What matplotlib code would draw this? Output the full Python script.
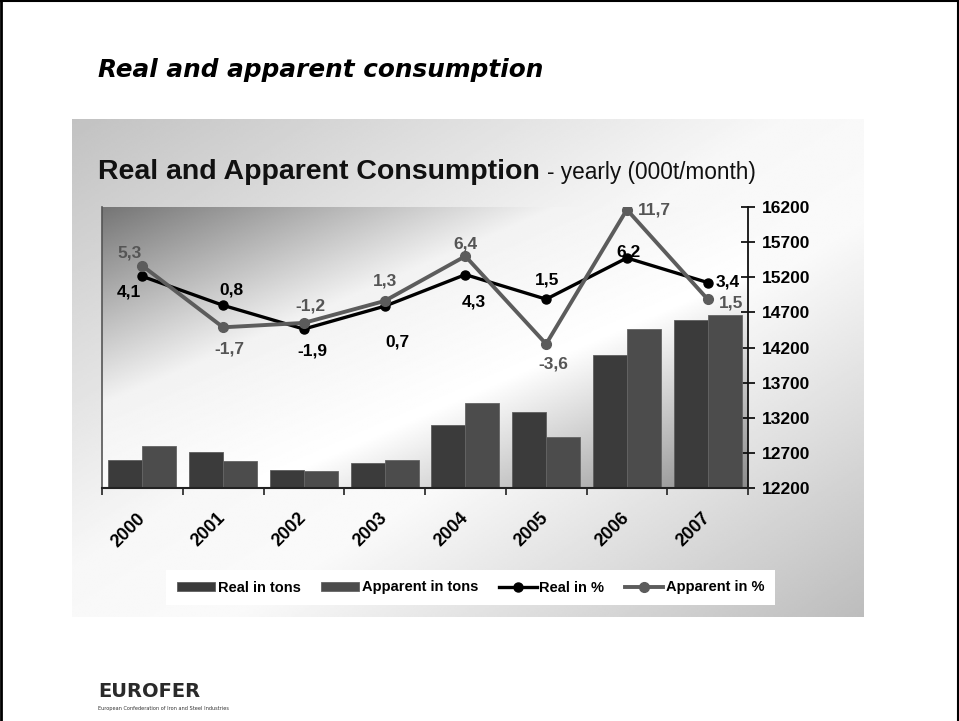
import numpy as np
import matplotlib
matplotlib.use('Agg')
import matplotlib.pyplot as plt
from matplotlib.patches import Patch
from matplotlib.lines import Line2D

plt.rcParams['font.family'] = ['Liberation Sans', 'DejaVu Sans']

# ---------------- data ----------------
years = ['2000', '2001', '2002', '2003', '2004', '2005', '2006', '2007']
real_tons = [12600, 12710, 12460, 12550, 13090, 13280, 14100, 14590]
apparent_tons = [12800, 12590, 12440, 12600, 13410, 12930, 14460, 14660]
real_pct = [4.1, 0.8, -1.9, 0.7, 4.3, 1.5, 6.2, 3.4]
apparent_pct = [5.3, -1.7, -1.2, 1.3, 6.4, -3.6, 11.7, 1.5]
tons_ticks = [12200, 12700, 13200, 13700, 14200, 14700, 15200, 15700, 16200]
legend_labels = ['Real in tons', 'Apparent in tons', 'Real in %', 'Apparent in %']

# label offsets (points) - styling only
real_off = [(-9.4, -11.5), (5.8, 10.8), (5.8, -15.8), (9.4, -26), (5.8, -19.4),
            (0.4, 13.7), (1.4, 4.1), (14.5, 0.7)]
app_off = [(-9, 9.6), (4.3, -15.6), (5, 12.2), (0, 14.4), (0, 8.6),
           (5, -14.4), (19.5, 0), (17, -2.9)]

W, H = 959, 721
fig = plt.figure(figsize=(W / 100, H / 100), dpi=100)
fig.patch.set_facecolor('white')


def fx(px):
    return px / W


def fy(py):
    return 1 - py / H


def diag_gradient(nx, ny, stops):
    xs = np.linspace(0, 1, nx)
    ys = np.linspace(0, 1, ny)
    X, Y = np.meshgrid(xs, ys)
    t = (X + Y) / 2
    pos = [s[0] for s in stops]
    vals = [s[1] for s in stops]
    return np.interp(t, pos, vals)


# ---------------- panel background ----------------
pl, pt, pr, pb = 72, 119, 864, 617
pax = fig.add_axes([fx(pl), fy(pb), (pr - pl) / W, (pb - pt) / H])
pax.set_axis_off()
g = diag_gradient(400, 250, [(0, 0.76), (0.45, 0.97), (0.6, 0.98), (1, 0.74)])
pax.imshow(g, cmap='gray', vmin=0, vmax=1, extent=[0, 1, 0, 1], origin='upper',
           aspect='auto', interpolation='bilinear')
pax.set_xlim(0, 1)
pax.set_ylim(0, 1)

# ---------------- plot-area background ----------------
L, T, R, B = 102, 207, 748, 488
rect = [fx(L), fy(B), (R - L) / W, (B - T) / H]
bax = fig.add_axes(rect)
bax.set_axis_off()
g2 = diag_gradient(400, 200, [(0, 0.46), (0.35, 0.95), (0.62, 1.0), (1, 0.55)])
bax.imshow(g2, cmap='gray', vmin=0, vmax=1, extent=[0, 1, 0, 1], origin='upper',
           aspect='auto', interpolation='bilinear')
bax.set_xlim(0, 1)
bax.set_ylim(0, 1)

# ---------------- main axes ----------------
ax = fig.add_axes(rect)
ax.patch.set_visible(False)
ax2 = ax.twinx()
ax2.patch.set_visible(False)

x = np.arange(len(years))
w = 0.42
real_col = '#3b3b3b'
app_col = '#4c4c4c'
ax.bar(x - w / 2, real_tons, w, color=real_col, edgecolor='#5e5e5e', linewidth=0.6, zorder=2)
ax.bar(x + w / 2, apparent_tons, w, color=app_col, edgecolor='#646464', linewidth=0.6, zorder=2)
ax.set_ylim(tons_ticks[0], tons_ticks[-1])
ax.set_xlim(-0.5, len(years) - 0.5)

ax.yaxis.tick_right()
ax.set_yticks(tons_ticks)
ax.set_yticklabels([str(v) for v in tons_ticks], fontweight='bold', fontsize=12.5)
ax.tick_params(axis='y', which='both', direction='inout', length=10, width=1.2,
               pad=5, colors='black', left=False, right=True)

ax.set_xticks(np.arange(-0.5, len(years), 1))
ax.set_xticklabels([])
ax.set_xticks(x, minor=True)
ax.set_xticklabels(years, minor=True, rotation=45, ha='right', va='center',
                   rotation_mode='anchor', fontweight='bold', fontsize=13)
ax.tick_params(axis='x', which='major', direction='out', length=5, width=1.2, color='#222')
ax.tick_params(axis='x', which='minor', length=0, pad=20)

ax.spines['top'].set_visible(False)
ax.spines['right'].set_color('#111')
ax.spines['right'].set_linewidth(1.3)
ax.spines['bottom'].set_color('#222')
ax.spines['bottom'].set_linewidth(1.5)
ax.spines['left'].set_color('#555')
ax.spines['left'].set_linewidth(1.2)

# secondary (percent) axis - hidden
ax2.set_ylim(-20, 12)
ax2.yaxis.set_visible(False)
for s in ax2.spines.values():
    s.set_visible(False)

ax2.plot(x, real_pct, color='black', lw=2.4, marker='o', ms=6.5, zorder=3)
ax2.plot(x, apparent_pct, color='#5c5c5c', lw=2.8, marker='o', ms=7, zorder=4)


def fmt(v):
    return ('%.1f' % v).replace('.', ',')


for i, v in enumerate(real_pct):
    ax2.annotate(fmt(v), (x[i], v), xytext=real_off[i], textcoords='offset points',
                 ha='center', va='center', fontsize=12.5, fontweight='bold',
                 color='black', zorder=6)
for i, v in enumerate(apparent_pct):
    ax2.annotate(fmt(v), (x[i], v), xytext=app_off[i], textcoords='offset points',
                 ha='center', va='center', fontsize=12.5, fontweight='bold',
                 color='#555555', zorder=6)

# ---------------- legend ----------------
handles = [Patch(facecolor=real_col, edgecolor='#5e5e5e', linewidth=0.6),
           Patch(facecolor=app_col, edgecolor='#646464', linewidth=0.6),
           Line2D([], [], color='black', lw=2.4, marker='o', ms=6.5),
           Line2D([], [], color='#5c5c5c', lw=2.8, marker='o', ms=7)]
leg = fig.legend(handles, legend_labels, loc='center',
                 bbox_to_anchor=(fx(470.5), fy(587.5)), ncol=4, frameon=True,
                 fancybox=False, facecolor='white', edgecolor='white', framealpha=1,
                 prop=dict(weight='bold', size=10.5), handlelength=2.6,
                 handletextpad=0.2, columnspacing=1.4, borderpad=0.75,
                 handleheight=0.6, numpoints=1)
leg.get_frame().set_linewidth(0)

# ---------------- titles ----------------
fig.text(fx(98), fy(77), 'Real and apparent consumption', fontsize=17.8,
         fontweight='bold', fontstyle='italic', family=['DejaVu Sans'],
         va='baseline', ha='left', color='black')

t1 = fig.text(fx(98), fy(179), 'Real and Apparent Consumption', fontsize=20.5,
              fontweight='bold', va='baseline', ha='left', color='#111111')
fig.canvas.draw()
bb = t1.get_window_extent()
fig.text((bb.x1 + 7) / W, fy(179), '- yearly (000t/month)', fontsize=16.3,
         va='baseline', ha='left', color='#111111')

# ---------------- logo ----------------
fig.text(fx(98), fy(697), 'EUROFER', fontsize=14, fontweight='bold',
         family=['DejaVu Sans'], color='#2a2a2a', va='baseline', ha='left')
fig.text(fx(98), fy(710), 'European Confederation of Iron and Steel Industries',
         fontsize=3.6, family=['DejaVu Sans'], color='#333333', va='baseline', ha='left')

# ---------------- slide frame ----------------
fig.add_artist(Line2D([fx(1), fx(1)], [0, 1], transform=fig.transFigure, color='black', lw=2))
fig.add_artist(Line2D([fx(957.5), fx(957.5)], [0, 1], transform=fig.transFigure, color='black', lw=1.5))
fig.add_artist(Line2D([0, 1], [fy(0.8), fy(0.8)], transform=fig.transFigure, color='black', lw=1.5))

fig.savefig('out.png', dpi=100, facecolor='white')
